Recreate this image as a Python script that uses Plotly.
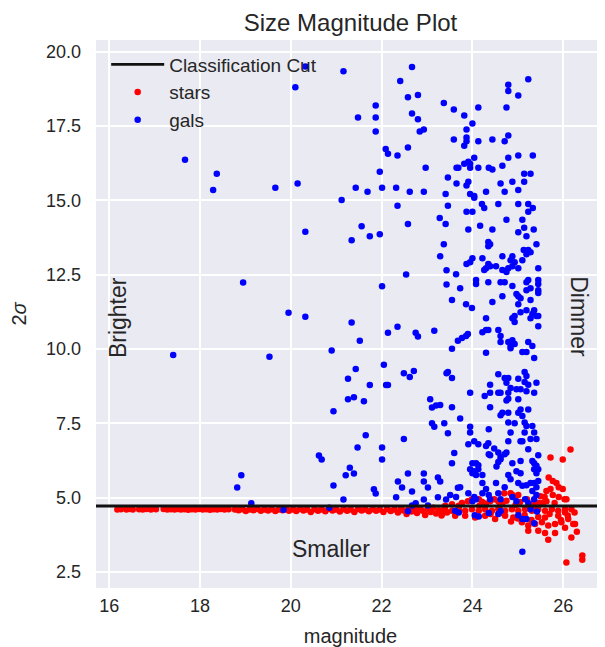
import plotly.graph_objects as go

# ---------------- data ----------------
title_text = "Size Magnitude Plot"
x_label = "magnitude"
y_label = "2<i>σ</i>"
cut_value = 4.72
x_limits = [15.71, 26.92]
y_limits = [1.96, 20.40]
x_ticks = [16, 18, 20, 22, 24, 26]
y_ticks = [2.5, 5.0, 7.5, 10.0, 12.5, 15.0, 17.5, 20.0]

# stars: thin band just under the cut
stars_band = [
    (16.18, 4.60), (16.26, 4.61), (16.38, 4.60), (16.45, 4.62), (16.52, 4.60),
    (16.66, 4.61), (16.74, 4.60), (16.82, 4.62), (16.92, 4.60), (17.03, 4.61),
    (17.20, 4.62), (17.28, 4.60), (17.36, 4.61), (17.44, 4.60), (17.51, 4.62),
    (17.58, 4.60), (17.66, 4.61), (17.74, 4.59), (17.82, 4.61), (17.90, 4.60),
    (17.98, 4.62), (18.06, 4.60), (18.14, 4.61), (18.22, 4.59), (18.30, 4.61),
    (18.38, 4.60), (18.46, 4.62), (18.54, 4.60), (18.63, 4.61),
    (18.77, 4.60), (18.85, 4.58), (18.93, 4.61), (19.01, 4.55), (19.10, 4.60),
    (19.18, 4.58), (19.26, 4.62), (19.34, 4.56), (19.42, 4.60), (19.50, 4.57),
    (19.58, 4.61), (19.66, 4.55), (19.74, 4.60), (19.82, 4.58), (19.90, 4.61),
    (19.96, 4.56),
    (20.05, 4.60), (20.12, 4.55), (20.20, 4.62), (20.28, 4.57), (20.36, 4.60),
    (20.44, 4.52), (20.52, 4.61), (20.60, 4.56), (20.68, 4.60), (20.76, 4.54),
    (20.84, 4.62), (20.92, 4.57), (21.00, 4.60), (21.08, 4.53), (21.16, 4.61),
    (21.24, 4.56), (21.32, 4.60), (21.40, 4.52), (21.48, 4.62), (21.56, 4.57),
    (21.64, 4.60), (21.72, 4.54), (21.80, 4.61), (21.88, 4.56), (21.96, 4.60),
    (22.04, 4.52), (22.12, 4.62), (22.20, 4.55), (22.28, 4.60), (22.36, 4.50),
    (22.42, 4.63), (22.48, 4.57), (22.55, 4.45), (22.60, 4.62), (22.66, 4.53),
    (22.72, 4.60), (22.78, 4.48), (22.84, 4.64), (22.90, 4.56), (22.96, 4.42),
    (23.02, 4.61), (23.08, 4.52), (23.14, 4.66), (23.20, 4.47), (23.26, 4.58),
    (23.32, 4.40), (23.38, 4.63), (23.44, 4.50),
]

# stars: faint end cluster
stars_cluster = [
    (23.41, 4.56), (23.55, 4.56), (23.70, 4.61), (23.84, 4.56), (23.99, 4.61),
    (24.14, 4.56), (24.28, 4.61), (24.43, 4.56), (24.57, 4.61), (24.72, 4.56),
    (24.87, 4.61), (25.01, 4.56), (25.16, 4.61), (25.31, 4.56), (25.45, 4.61),
    (25.60, 4.56), (25.75, 4.61), (25.89, 4.56), (26.04, 4.61), (26.18, 4.61),
    (23.33, 4.45), (23.62, 4.39), (23.84, 4.39), (24.06, 4.33), (24.28, 4.39),
    (24.50, 4.28), (24.72, 4.39), (24.90, 4.33), (25.09, 4.17), (25.23, 4.06),
    (25.38, 4.11), (25.53, 4.17), (25.67, 4.06), (25.82, 4.11), (25.96, 4.17),
    (26.11, 4.28), (26.22, 4.11), (25.89, 4.39), (25.60, 4.33), (26.04, 4.50),
    (25.23, 3.89), (25.45, 3.89), (25.60, 3.81), (25.67, 3.58), (25.82, 3.81),
    (26.04, 3.99), (26.18, 3.66), (26.26, 4.11),
    (26.07, 2.82), (26.42, 3.05), (26.42, 2.91),
    (26.16, 6.62), (25.72, 6.35), (25.99, 6.28),
    (25.68, 5.68), (25.77, 5.56), (25.85, 5.49), (25.90, 5.35), (25.99, 5.29),
    (25.72, 5.29), (25.63, 5.22), (25.77, 5.09), (25.90, 5.02), (26.03, 4.95),
    (26.07, 4.95), (25.59, 5.02), (25.63, 4.88), (25.55, 4.82), (25.81, 4.82),
    (25.46, 4.82), (24.94, 5.01), (25.01, 5.09), (24.88, 5.09), (24.70, 5.15),
    (24.84, 5.15), (24.39, 4.88), (24.48, 4.95), (24.57, 4.88), (24.66, 4.82),
    (23.99, 4.95), (24.14, 4.95), (24.21, 4.86), (23.90, 4.88), (23.77, 4.82),
    (23.55, 4.78), (23.40, 4.73), (23.70, 4.73),
    (24.30, 4.80), (24.75, 4.90), (25.05, 4.85), (25.20, 4.95), (25.35, 4.80),
    (25.50, 5.05), (25.40, 4.70), (24.95, 4.75), (24.60, 4.70), (24.15, 4.72),
    (24.40, 4.45), (24.65, 4.48), (24.85, 4.20), (25.00, 4.30), (25.15, 4.42),
    (25.30, 4.25), (25.45, 4.35), (25.70, 4.45), (25.95, 4.25), (26.10, 4.40),
    (26.25, 4.50), (26.30, 3.85),
]

# galaxies: brighter, sparse part
gals_sparse = [
    (17.67, 16.37), (18.37, 15.90), (18.29, 15.35), (19.66, 15.43),
    (20.32, 19.51), (20.10, 18.81), (21.16, 19.35), (22.67, 19.49), (22.41, 19.02),
    (22.58, 18.47), (22.80, 18.55), (21.87, 18.20), (21.48, 17.79), (21.87, 17.79),
    (22.67, 17.93), (22.80, 17.73), (21.87, 17.32), (22.84, 17.32), (22.93, 17.39),
    (22.09, 16.73), (22.14, 16.57), (22.35, 16.51), (22.58, 16.78), (22.97, 16.10),
    (21.96, 15.97), (20.15, 15.57), (21.43, 15.43), (21.69, 15.29), (22.01, 15.43),
    (22.32, 15.43), (22.62, 15.29), (22.93, 15.29), (21.12, 15.02), (22.35, 14.82),
    (21.56, 14.13), (22.58, 14.21), (23.28, 14.41), (20.32, 13.95),
    (18.95, 12.24), (19.95, 11.22), (17.41, 9.80), (19.53, 9.74),
    (21.34, 13.66), (21.74, 13.80), (21.96, 13.86), (23.29, 13.12), (22.54, 12.51),
    (22.01, 12.11), (20.32, 11.09), (21.34, 10.89), (22.14, 10.55), (22.35, 10.75),
    (22.75, 10.55), (22.80, 10.42), (23.16, 10.62), (21.52, 10.28), (20.90, 9.95),
    (22.05, 9.47), (21.43, 9.33), (21.26, 9.00), (21.74, 8.79), (22.10, 8.79),
    (22.14, 8.79), (22.49, 9.19), (22.62, 9.06), (22.71, 9.26), (21.26, 8.31),
    (21.39, 8.38), (21.61, 8.24), (20.94, 7.91), (23.07, 8.31), (23.11, 8.03),
    (23.20, 8.10), (23.29, 8.12),
    (18.91, 5.75), (18.82, 5.34), (19.13, 4.81), (19.84, 4.59),
    (23.11, 7.50), (23.16, 7.39), (21.65, 7.10), (21.47, 6.69), (22.01, 6.69),
    (22.01, 6.28), (22.49, 6.97), (20.62, 6.42), (20.68, 6.28), (21.30, 6.01),
    (21.21, 5.75), (21.39, 5.81), (20.94, 5.41), (21.83, 5.28), (21.87, 5.14),
    (21.16, 4.94), (22.58, 5.81), (22.36, 5.54), (22.45, 5.34), (22.67, 5.21),
    (22.93, 5.81), (22.93, 5.54), (23.02, 5.34), (23.24, 5.68), (23.29, 5.54),
    (22.32, 5.01), (22.93, 4.94), (23.24, 5.01), (22.67, 4.74), (22.75, 4.81),
    (23.02, 4.74), (22.58, 4.54), (20.85, 4.66),
]

# galaxies: faint, dense part
gals_dense = [
    (23.37, 18.28), (23.46, 15.77), (23.46, 14.82), (23.41, 15.22), (23.41, 14.21),
    (25.23, 19.08), (24.79, 18.89), (24.79, 18.68), (25.01, 18.53), (23.59, 18.06),
    (23.82, 17.86), (24.13, 18.13), (24.75, 18.13), (24.00, 17.59), (23.87, 17.39),
    (23.59, 17.05), (23.87, 17.12), (23.87, 16.99), (23.82, 16.84), (24.13, 16.99),
    (24.44, 17.05), (24.71, 16.99), (24.79, 17.19), (24.79, 16.44), (25.01, 16.51),
    (25.33, 16.51), (24.04, 16.44), (23.82, 16.24), (23.91, 16.30), (23.95, 16.24),
    (23.69, 16.10), (23.65, 16.10), (23.95, 16.10), (24.13, 16.10), (24.36, 16.10),
    (24.44, 16.04), (24.66, 16.17), (25.14, 15.90), (25.28, 15.90), (23.65, 15.57),
    (23.91, 15.63), (23.87, 15.50), (24.62, 15.57), (24.88, 15.63), (25.14, 15.63),
    (23.95, 15.22), (24.04, 15.15), (24.04, 15.09), (24.30, 15.29), (24.71, 15.29),
    (25.01, 15.35), (24.21, 14.88), (24.26, 14.75), (24.57, 14.88), (25.01, 14.88),
    (25.23, 14.88), (25.33, 14.75), (25.23, 14.62), (23.87, 14.62), (24.00, 14.62),
    (24.17, 14.15), (24.44, 14.02), (24.75, 14.35), (25.10, 14.35), (25.14, 14.08),
    (23.91, 14.02), (25.35, 14.02),
    (23.37, 13.53), (23.43, 12.65), (23.43, 12.17), (23.43, 9.19),
    (25.01, 13.93), (25.19, 13.80), (24.35, 13.60), (24.39, 13.53), (24.35, 13.46),
    (25.41, 13.53), (25.13, 13.33), (25.23, 13.33), (25.19, 13.19), (25.28, 13.26),
    (24.00, 13.06), (23.95, 12.92), (23.87, 12.86), (24.22, 13.06), (24.66, 13.12),
    (24.88, 13.12), (24.84, 12.99), (25.10, 12.99), (24.35, 12.86), (24.30, 12.72),
    (24.26, 12.66), (24.39, 12.79), (24.52, 12.79), (24.66, 12.66), (24.75, 12.59),
    (24.79, 12.72), (24.93, 12.92), (25.01, 12.72), (24.88, 12.79), (25.45, 12.72),
    (23.64, 12.52), (24.08, 12.32), (24.08, 12.19), (24.35, 12.25), (24.62, 12.25),
    (24.71, 12.25), (24.88, 12.12), (25.23, 12.32), (25.19, 12.25), (25.19, 11.98),
    (25.28, 12.05), (25.45, 12.32), (25.45, 12.19), (25.45, 11.98), (25.45, 11.89),
    (23.73, 12.05), (23.55, 11.65), (23.86, 11.51), (23.99, 11.38), (24.44, 11.58),
    (24.66, 11.78), (24.97, 11.85), (25.01, 11.78), (25.06, 11.71), (25.01, 11.51),
    (25.28, 11.65), (25.06, 11.24), (25.19, 11.31), (25.36, 11.31), (24.93, 11.11),
    (24.88, 11.04), (24.93, 10.91), (25.32, 11.18), (25.41, 11.11), (25.28, 11.04),
    (25.45, 11.11), (25.45, 10.77), (24.30, 11.04), (24.22, 10.57), (24.30, 10.64),
    (24.35, 10.64), (24.57, 10.64), (24.62, 10.44), (24.62, 10.24), (23.90, 10.51),
    (23.86, 10.44), (23.77, 10.37), (23.68, 10.28), (23.55, 10.01), (24.30, 9.88),
    (24.79, 10.24), (24.88, 10.30), (24.93, 10.17), (24.84, 10.10), (24.84, 10.03),
    (25.23, 10.24), (25.32, 10.10), (25.10, 9.90), (25.19, 9.90), (25.36, 9.70),
    (23.46, 9.23), (23.55, 9.03), (23.95, 8.53), (24.57, 9.15), (24.71, 9.03),
    (24.79, 9.03), (24.75, 8.87), (25.01, 9.00), (25.15, 9.23), (25.19, 9.09),
    (25.15, 8.89), (25.23, 8.80), (25.41, 8.87), (24.39, 8.80), (24.39, 8.53),
    (24.57, 8.53), (24.62, 8.53), (24.79, 8.53), (24.84, 8.69), (24.97, 8.65),
    (25.06, 8.65), (25.19, 8.58), (25.36, 8.53), (24.27, 8.42), (24.75, 8.27),
    (24.79, 8.33), (25.01, 8.31), (23.55, 8.04), (24.39, 8.04), (24.66, 7.86),
    (24.62, 7.77), (24.79, 7.86), (25.01, 7.86), (25.06, 7.97), (25.23, 7.97),
    (25.10, 7.75), (23.73, 7.66),
    (23.38, 7.50), (23.46, 7.17), (23.42, 4.94),
    (23.95, 7.39), (23.95, 7.19), (24.36, 7.30), (24.79, 7.53), (24.93, 7.50),
    (25.15, 7.53), (25.19, 7.41), (25.32, 7.41), (25.36, 7.19), (25.28, 6.97),
    (25.41, 6.97), (25.10, 6.90), (25.06, 6.90), (25.15, 7.19), (24.84, 7.19),
    (24.79, 6.90), (23.91, 6.80), (24.04, 6.90), (24.13, 6.80), (24.35, 6.83),
    (24.30, 6.74), (24.48, 6.65), (24.57, 6.52), (24.62, 6.38), (24.71, 6.46),
    (24.75, 6.52), (24.36, 6.46), (24.39, 6.43), (23.60, 6.50), (23.55, 6.16),
    (24.00, 6.16), (24.08, 6.16), (24.13, 6.09), (23.95, 5.96), (24.04, 5.89),
    (24.13, 5.96), (24.00, 5.82), (24.08, 5.76), (24.57, 6.20), (24.62, 6.29),
    (24.88, 6.16), (25.06, 6.23), (25.23, 6.63), (25.45, 6.43), (25.32, 6.23),
    (25.36, 6.16), (25.41, 6.07), (25.45, 5.96), (25.36, 5.96), (25.41, 5.82),
    (24.97, 5.89), (25.06, 5.82), (24.79, 5.76), (24.84, 5.62), (24.53, 6.05),
    (24.22, 5.76), (24.22, 5.49), (24.30, 5.29), (24.52, 5.49), (24.71, 5.35),
    (25.01, 5.49), (25.10, 5.40), (25.19, 5.42), (25.28, 5.49), (25.36, 5.49),
    (25.41, 5.35), (25.45, 5.56), (25.32, 5.22), (25.41, 5.09), (25.36, 4.95),
    (23.73, 5.35), (23.68, 5.33), (23.91, 5.15), (24.04, 5.02), (24.08, 4.95),
    (24.00, 4.88), (23.51, 5.09), (23.64, 5.02), (24.22, 5.15), (24.36, 5.09),
    (24.39, 4.95), (24.57, 5.15), (24.62, 4.95), (24.88, 5.02), (24.97, 4.88),
    (25.16, 4.95), (25.23, 4.82),
    (24.36, 4.48), (24.57, 4.45), (24.62, 4.55), (25.01, 4.41), (25.10, 4.28),
    (25.19, 4.28), (25.36, 4.14), (24.05, 4.41), (24.14, 4.37), (23.62, 4.56),
    (23.70, 4.50), (25.28, 4.61), (25.42, 4.53), (25.10, 3.18),
]

stars = stars_band + stars_cluster
gals = gals_sparse + gals_dense
stars_mag = [p[0] for p in stars]
stars_size = [p[1] for p in stars]
gals_mag = [p[0] for p in gals]
gals_size = [p[1] for p in gals]

# ---------------- figure ----------------
FONT = "Liberation Sans, Arial, sans-serif"
TXT = "#262626"

fig = go.Figure()
fig.add_trace(go.Scatter(
    x=stars_mag, y=stars_size, mode="markers", name="stars",
    marker=dict(color="#ff0000", size=6.5, line=dict(width=0)), legendrank=2))
fig.add_trace(go.Scatter(
    x=gals_mag, y=gals_size, mode="markers", name="gals",
    marker=dict(color="#0000ff", size=6.5, line=dict(width=0)), legendrank=3))
fig.add_trace(go.Scatter(
    x=x_limits, y=[cut_value, cut_value], mode="lines", name="Classification Cut",
    line=dict(color="#111111", width=2.8), legendrank=1))

fig.add_annotation(x=16.2, y=11.05, text="Brighter", textangle=-90, showarrow=False,
                   font=dict(size=23, color=TXT, family=FONT))
fig.add_annotation(x=26.33, y=11.1, text="Dimmer", textangle=90, showarrow=False,
                   font=dict(size=23, color=TXT, family=FONT))
fig.add_annotation(x=20.89, y=3.27, text="Smaller", showarrow=False,
                   font=dict(size=23, color=TXT, family=FONT))

# the page body adds an 8px offset; size the figure so the plot lands in place
fig.update_layout(
    width=597, height=639,
    margin=dict(l=88, r=0, t=32, b=59),
    paper_bgcolor="white", plot_bgcolor="#EAEAF2",
    font=dict(family=FONT, color=TXT),
    title=dict(text=title_text, x=0.5, xref="paper", xanchor="center",
               y=1, yref="container", yanchor="top", pad=dict(t=6),
               font=dict(size=24, color=TXT, family=FONT)),
    showlegend=True,
    legend=dict(x=0.02, y=0.99, xanchor="left", yanchor="top",
                bgcolor="rgba(0,0,0,0)", borderwidth=0,
                font=dict(size=19, color=TXT, family=FONT),
                itemwidth=53, tracegroupgap=0),
    xaxis=dict(range=x_limits, tickvals=x_ticks, showgrid=True, gridcolor="white",
               gridwidth=1.6, zeroline=False, showline=False, ticks="",
               ticklabelstandoff=5,
               tickfont=dict(size=18, color=TXT, family=FONT),
               title=dict(text=x_label, font=dict(size=20, color=TXT, family=FONT),
                          standoff=13)),
    yaxis=dict(range=y_limits, tickvals=y_ticks, tickformat=".1f", showgrid=True,
               gridcolor="white", gridwidth=1.6, zeroline=False, showline=False,
               ticks="", ticklabelstandoff=14,
               tickfont=dict(size=18, color=TXT, family=FONT),
               title=dict(text=y_label, font=dict(size=20, color=TXT, family=FONT),
                          standoff=16)),
)

fig.write_html("out.html")
